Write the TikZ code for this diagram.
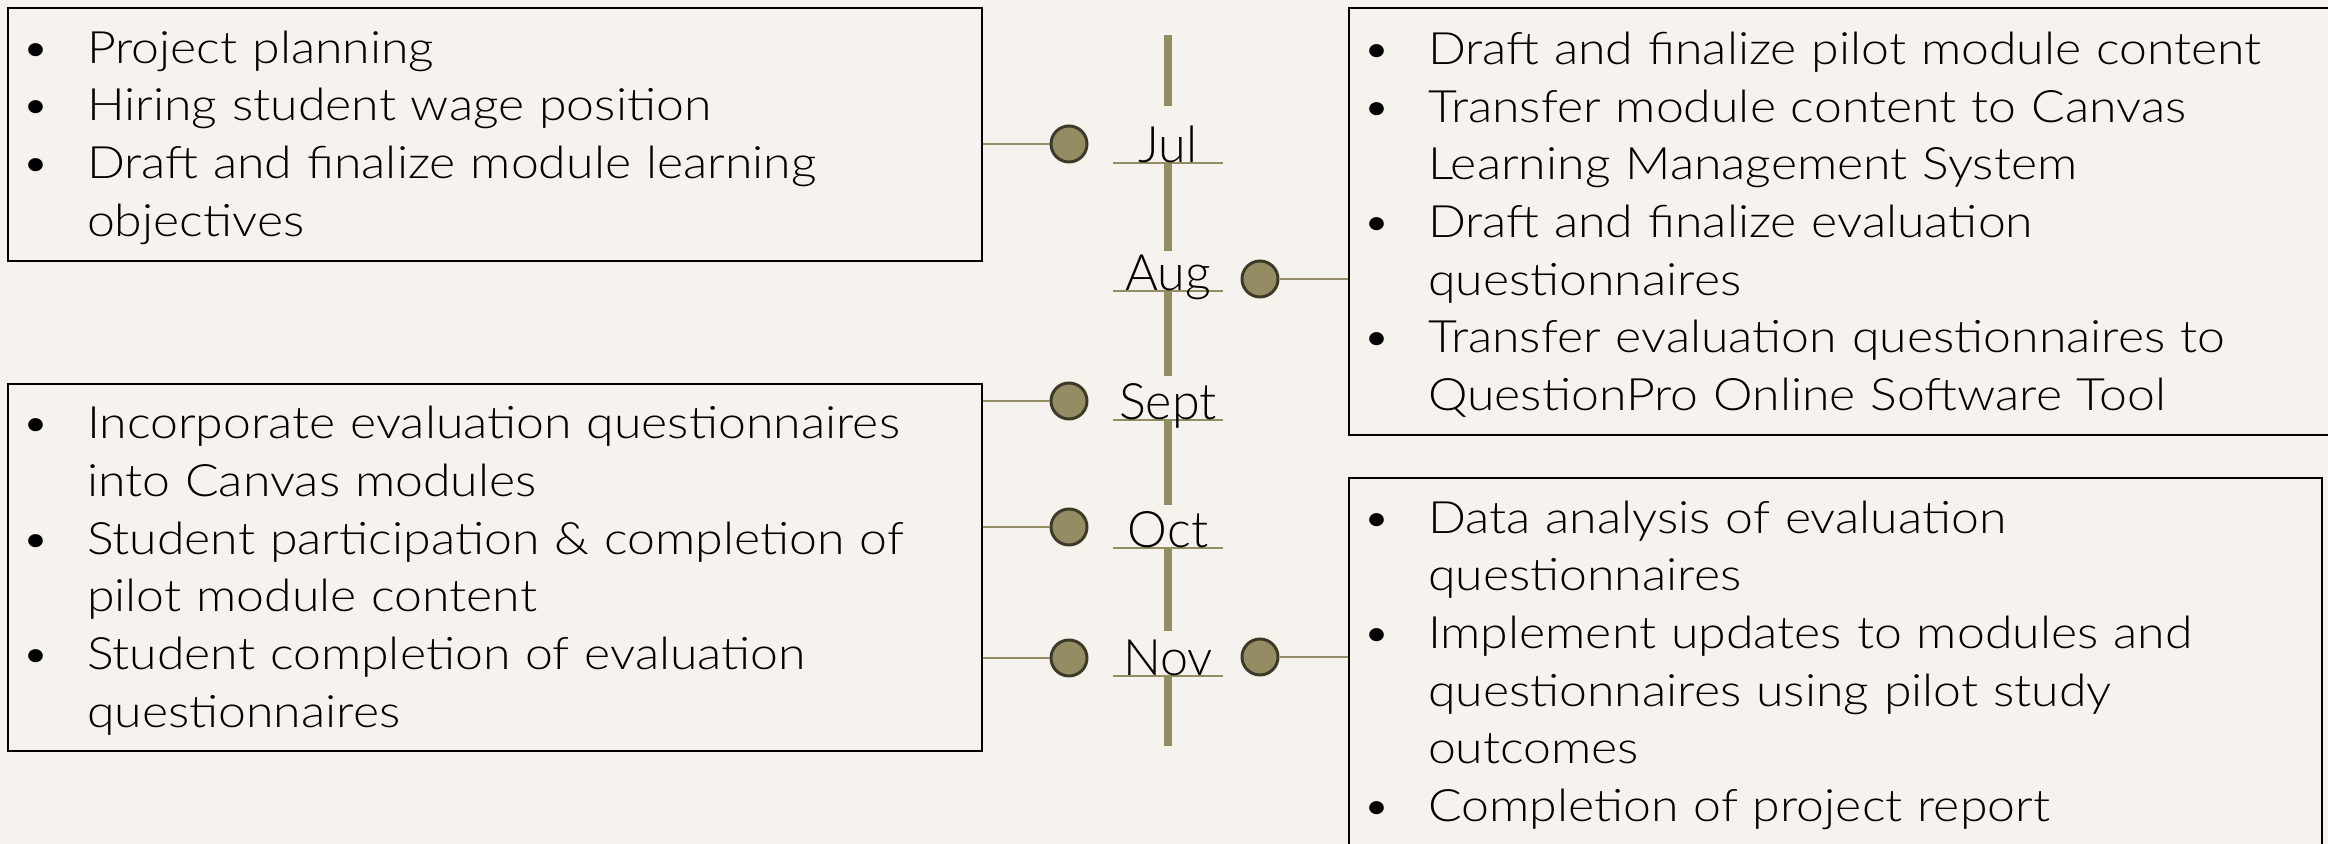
\documentclass[tikz,border=0pt]{standalone}
\usepackage{fontspec}
\setmainfont{Lato}[UprightFont=* Light, FakeStretch=1.12]
\newfontfamily\monthfont{Lato}[UprightFont=* Light]
\usepackage{enumitem}
\usetikzlibrary{positioning}
\definecolor{paper}{HTML}{F6F2EE}
\definecolor{olive}{HTML}{948C63}
\definecolor{olivedark}{HTML}{3E3A28}
\setlist[itemize]{label=\textbullet, leftmargin=0.59cm, labelsep=0.37cm,
  topsep=0pt, itemsep=0pt, parsep=0pt, partopsep=0pt}
\tikzset{
  taskbox/.style={draw=black, line width=0.6pt, anchor=north west,
    inner xsep=0.2cm, inner ysep=0pt, align=left,
    font=\fontsize{12.7}{16.4}\selectfont,
    execute at begin node=\vspace*{-0.19cm}},
  month/.style={anchor=base, inner sep=0pt,
    font=\monthfont\fontsize{14.3}{16}\selectfont},
  dot/.style={circle, fill=olive, draw=olivedark, line width=0.85pt,
    minimum size=0.36cm, inner sep=0pt},
  bar/.style={olive, line width=2.3pt},
  tick/.style={olive, line width=0.6pt},
  link/.style={olive, line width=0.45pt}
}

\begin{document}
\begin{tikzpicture}
  \fill[paper] (0,0) rectangle (23.28,-8.44);
  \useasboundingbox (0,0) rectangle (23.28,-8.44);

  % task boxes
  \node[taskbox, text width=9.34cm, minimum height=2.53cm] (julbox) at (0.07,-0.07)
    {\begin{itemize}
      \item Project planning
      \item Hiring student wage position
      \item Draft and finalize module learning\newline objectives
    \end{itemize}};
  \node[taskbox, text width=9.34cm, minimum height=3.67cm] (fallbox) at (0.07,-3.83)
    {\begin{itemize}
      \item Incorporate evaluation questionnaires\newline into Canvas modules
      \item Student participation \& completion of\newline pilot module content
      \item Student completion of evaluation\newline questionnaires
    \end{itemize}};
  \node[taskbox, text width=9.5cm, minimum height=4.27cm] (augbox) at (13.48,-0.07)
    {\begin{itemize}
      \item Draft and finalize pilot module content
      \item Transfer module content to Canvas\newline Learning Management System
      \item Draft and finalize evaluation\newline questionnaires
      \item Transfer evaluation questionnaires to\newline QuestionPro Online Software Tool
    \end{itemize}};
  \node[taskbox, text width=9.33cm, minimum height=3.68cm] (novbox) at (13.48,-4.77)
    {\begin{itemize}
      \item Data analysis of evaluation\newline questionnaires
      \item Implement updates to modules and\newline questionnaires using pilot study\newline outcomes
      \item Completion of project report
    \end{itemize}};

  % timeline
  \coordinate (top) at (11.68,-0.35);
  \coordinate (m1) at (11.68,-1.63);
  \coordinate (m2) at (11.68,-2.91);
  \coordinate (m3) at (11.68,-4.20);
  \coordinate (m4) at (11.68,-5.48);
  \coordinate (m5) at (11.68,-6.76);
  \coordinate (bottom) at (11.68,-7.46);
  \draw[bar] (top) -- ([yshift=0.57cm]m1);
  \draw[bar] (m1) -- ([yshift=0.40cm]m2);
  \draw[bar] (m2) -- ([yshift=0.44cm]m3);
  \draw[bar] (m3) -- ([yshift=0.43cm]m4);
  \draw[bar] (m4) -- ([yshift=0.45cm]m5);
  \draw[bar] (m5) -- (bottom);
  \draw[tick] ([xshift=-0.55cm]m1) -- ([xshift=0.55cm]m1);
  \draw[tick] ([xshift=-0.55cm]m2) -- ([xshift=0.55cm]m2);
  \draw[tick] ([xshift=-0.55cm]m3) -- ([xshift=0.55cm]m3);
  \draw[tick] ([xshift=-0.55cm]m4) -- ([xshift=0.55cm]m4);
  \draw[tick] ([xshift=-0.55cm]m5) -- ([xshift=0.55cm]m5);
  \node[month] (jul) at (m1) {Jul};
  \node[month] (aug) at (m2) {Aug};
  \node[month] (sept) at (m3) {Sept};
  \node[month] (oct) at (m4) {Oct};
  \node[month] (nov) at (m5) {Nov};

  % markers
  \node[dot] (juldot) at (10.69,-1.44) {};
  \node[dot] (augdot) at (12.60,-2.79) {};
  \node[dot] (septdot) at (10.69,-4.01) {};
  \node[dot] (octdot) at (10.69,-5.27) {};
  \node[dot] (novdot) at (10.69,-6.58) {};
  \node[dot] (novdot2) at (12.60,-6.57) {};
  \draw[link] (juldot.west) -- (juldot.west -| julbox.east);
  \draw[link] (septdot.west) -- (septdot.west -| fallbox.east);
  \draw[link] (octdot.west) -- (octdot.west -| fallbox.east);
  \draw[link] (novdot.west) -- (novdot.west -| fallbox.east);
  \draw[link] (augdot.east) -- (augdot.east -| augbox.west);
  \draw[link] (novdot2.east) -- (novdot2.east -| novbox.west);
\end{tikzpicture}
\end{document}
